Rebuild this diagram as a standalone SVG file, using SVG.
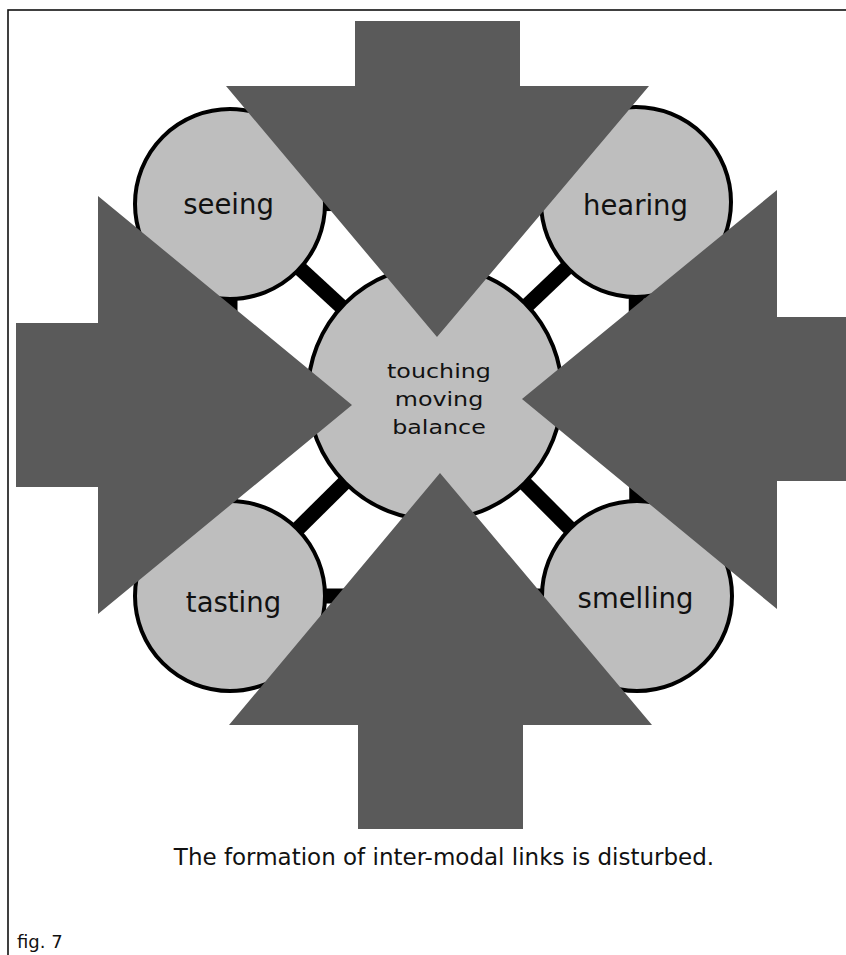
<svg xmlns="http://www.w3.org/2000/svg" width="846" height="955" viewBox="0 0 846 955">
  <style>
    .frame { fill: none; stroke: #111; stroke-width: 1.6; }
    .link { stroke: #000; stroke-width: 15; fill: none; }
    .sense { fill: #bebebe; stroke: #000; stroke-width: 4; }
    .arrow { fill: #5a5a5a; stroke: none; }
    .label { font-family: "DejaVu Sans", "Liberation Sans", sans-serif; fill: #111; text-anchor: middle; }
    .big { font-size: 27.5px; }
    .mid { font-size: 19.5px; }
    .cap { font-size: 23px; }
    .fig { font-size: 18px; text-anchor: start; }
  </style>
  <rect width="846" height="955" fill="#fff"/>
  <rect class="frame" x="8" y="10" width="860" height="970"/>

  <g id="connectors">
    <line class="link" x1="230" y1="204" x2="636" y2="202"/>
    <line class="link" x1="636" y1="202" x2="637" y2="596"/>
    <line class="link" x1="637" y1="596" x2="230" y2="596"/>
    <line class="link" x1="230" y1="596" x2="230" y2="204"/>
    <line class="link" x1="435" y1="393" x2="230" y2="204"/>
    <line class="link" x1="435" y1="393" x2="636" y2="202"/>
    <line class="link" x1="435" y1="393" x2="637" y2="596"/>
    <line class="link" x1="435" y1="393" x2="230" y2="596"/>
  </g>

  <g id="seeing">
    <circle class="sense" cx="230" cy="204" r="95"/>
    <text class="label big" x="228.5" y="214">seeing</text>
  </g>
  <g id="hearing">
    <circle class="sense" cx="636" cy="202" r="95"/>
    <text class="label big" x="635.5" y="215">hearing</text>
  </g>
  <g id="tasting">
    <circle class="sense" cx="230" cy="596" r="95"/>
    <text class="label big" x="233.5" y="612">tasting</text>
  </g>
  <g id="smelling">
    <circle class="sense" cx="637" cy="596" r="95"/>
    <text class="label big" x="635.5" y="608">smelling</text>
  </g>
  <g id="center">
    <circle class="sense" cx="435" cy="393" r="127"/>
    <g transform="translate(439,0) scale(1.22,1)">
      <text class="label mid" x="0" y="378">touching</text>
      <text class="label mid" x="0" y="406">moving</text>
      <text class="label mid" x="0" y="434">balance</text>
    </g>
  </g>

  <g id="arrows">
    <polygon id="arrow-top" class="arrow" points="355,21 520,21 520,86 649,86 437,337 226,86 355,86"/>
    <polygon id="arrow-left" class="arrow" points="16,323 98,323 98,196 352,405 98,614 98,487 16,487"/>
    <polygon id="arrow-right" class="arrow" points="846,317 777,317 777,190 522,399 777,609 777,481 846,481"/>
    <polygon id="arrow-bottom" class="arrow" points="358,829 523,829 523,725 652,725 440,473 229,725 358,725"/>
  </g>

  <text class="label cap" x="444" y="865">The formation of inter-modal links is disturbed.</text>
  <text class="label fig" x="17" y="948">fig. 7</text>
</svg>
